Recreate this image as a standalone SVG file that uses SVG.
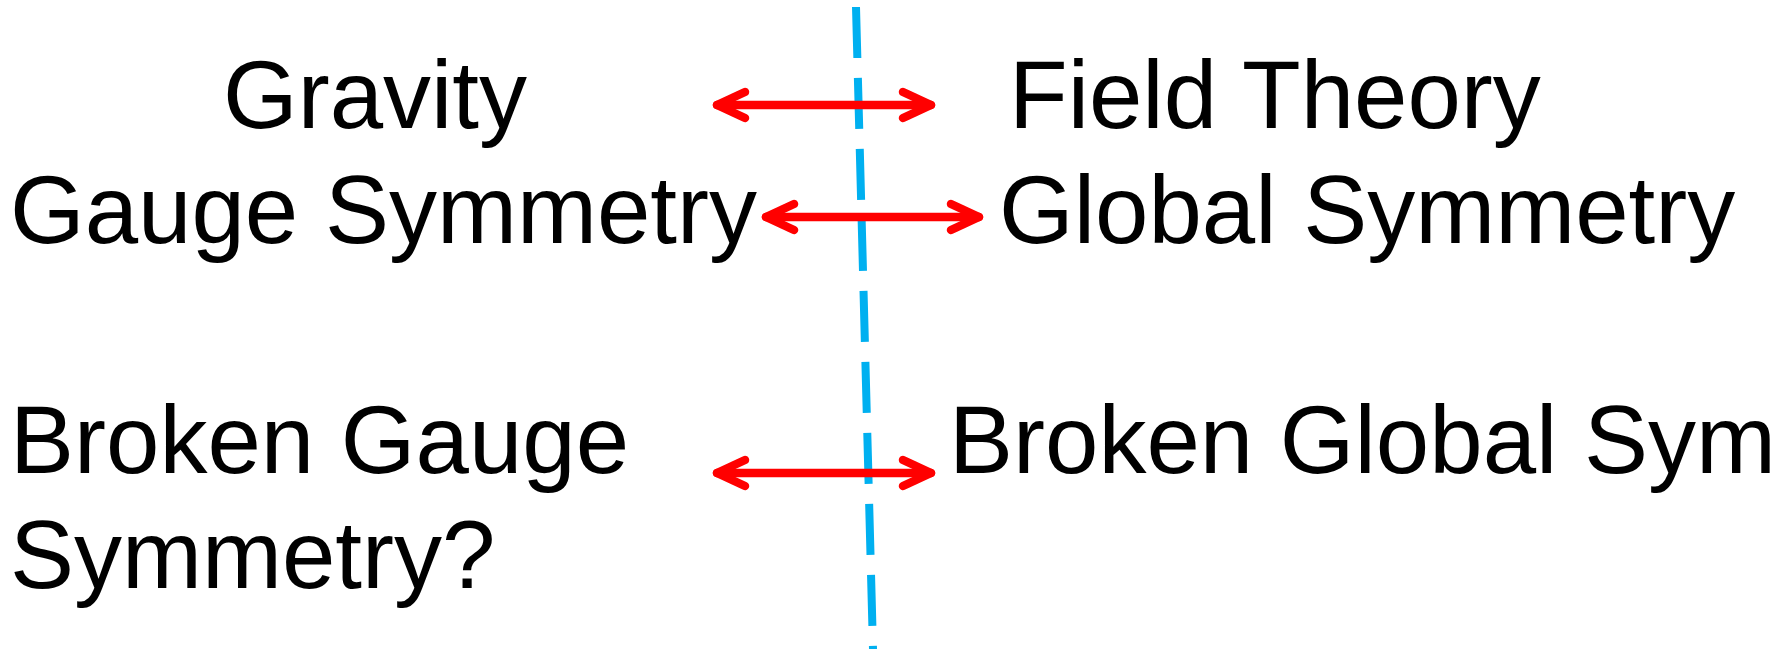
<svg xmlns="http://www.w3.org/2000/svg" width="1791" height="649" viewBox="0 0 1791 649">
  <style>
    .lbl { font-family: "Liberation Sans", Arial, sans-serif; font-size: 96px; fill: #000000; }
    .arrow { stroke: #FF0000; stroke-width: 8.5; fill: none; stroke-linecap: round; }
    .divider { stroke: #00B0F0; stroke-width: 8; fill: none; stroke-dasharray: 51 20; stroke-linecap: butt; }
  </style>
  <defs>
    <marker id="chev" viewBox="-40 -20 50 40" markerWidth="50" markerHeight="40" refX="0" refY="0" markerUnits="userSpaceOnUse" orient="auto-start-reverse" overflow="visible">
      <path d="M -28 -13 L 0 0 L -28 13" stroke="#FF0000" stroke-width="8.5" fill="none" stroke-linecap="round" stroke-linejoin="round"/>
    </marker>
  </defs>

  <g id="divider">
    <line class="divider" x1="856" y1="7" x2="873" y2="649"/>
  </g>

  <g id="node-gravity"><text class="lbl" x="223" y="128">Gravity</text></g>
  <g id="node-field-theory"><text class="lbl" x="1009" y="128">Field Theory</text></g>
  <g id="node-gauge-symmetry"><text class="lbl" x="10" y="243">Gauge Symmetry</text></g>
  <g id="node-global-symmetry"><text class="lbl" x="999" y="243">Global Symmetry</text></g>
  <g id="node-broken-gauge">
    <text class="lbl" x="10" y="473">Broken Gauge</text>
    <text class="lbl" x="10" y="588">Symmetry?</text>
  </g>
  <g id="node-broken-global"><text class="lbl" x="949" y="473">Broken Global Sym</text></g>

  <g id="connectors">
    <line class="arrow" x1="717" y1="105" x2="931" y2="105" marker-start="url(#chev)" marker-end="url(#chev)"/>
    <line class="arrow" x1="766" y1="217" x2="979" y2="217" marker-start="url(#chev)" marker-end="url(#chev)"/>
    <line class="arrow" x1="717" y1="473" x2="931" y2="473" marker-start="url(#chev)" marker-end="url(#chev)"/>
  </g>
</svg>
